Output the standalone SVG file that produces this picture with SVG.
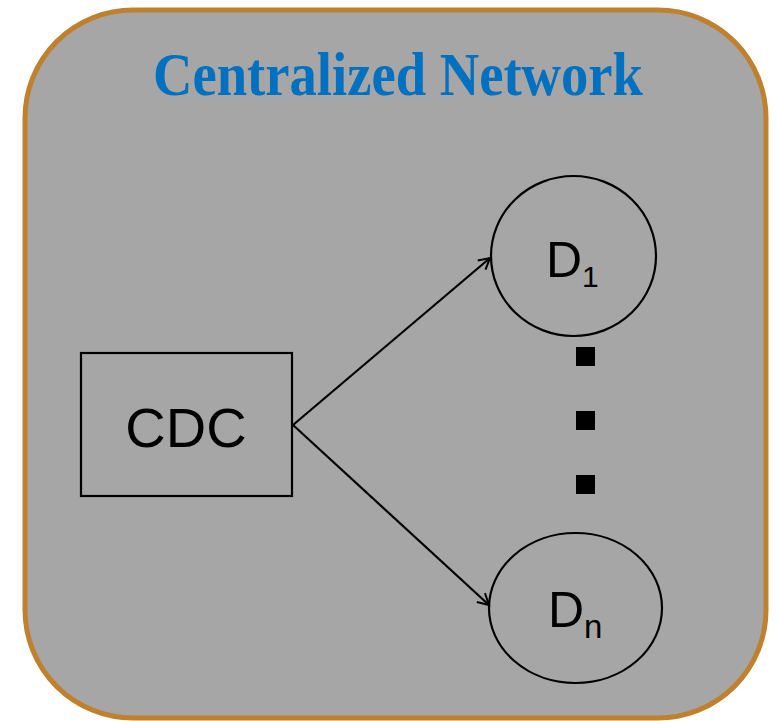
<svg xmlns="http://www.w3.org/2000/svg" width="777" height="721" viewBox="0 0 777 721">
<style>
.node{fill:none;stroke:#000;stroke-width:2.2}
.lbl{font-family:"Liberation Sans",Arial,sans-serif;fill:#000}
.edge{fill:none;stroke:#000;stroke-width:2.2;marker-end:url(#arr)}
</style>
<defs>
<marker id="arr" markerWidth="16" markerHeight="16" refX="13" refY="8" orient="auto" markerUnits="userSpaceOnUse">
<path d="M2,2 L13,8 L2,14" fill="none" stroke="#000" stroke-width="2"/>
</marker>
</defs>
<g id="frame">
<rect x="25" y="10" width="741" height="708" rx="108" ry="108" fill="#A6A6A6" stroke="#C0812F" stroke-width="5"/>
<text x="153" y="95" font-family="'Liberation Serif','Times New Roman',serif" font-weight="bold" font-size="61" fill="#0070C0" textLength="490" lengthAdjust="spacingAndGlyphs">Centralized Network</text>
</g>
<g id="connectors">
<line class="edge" x1="293" y1="425" x2="490" y2="258"/>
<line class="edge" x1="293" y1="425" x2="489" y2="605"/>
</g>
<g id="cdc">
<rect class="node" x="81" y="353" width="211" height="143"/>
<text class="lbl" x="186" y="447" font-size="56" text-anchor="middle">CDC</text>
</g>
<g id="d1">
<ellipse class="node" cx="573.5" cy="256" rx="82.5" ry="80"/>
<text class="lbl" x="546" y="277" font-size="50">D<tspan font-size="30" dy="10">1</tspan></text>
</g>
<g id="dn">
<ellipse class="node" cx="575.5" cy="608" rx="86.5" ry="75"/>
<text class="lbl" x="548" y="627" font-size="50">D<tspan font-size="33" dy="11">n</tspan></text>
</g>
<g id="dots" fill="#000">
<rect x="576" y="347" width="19" height="19"/>
<rect x="576" y="411" width="19" height="19"/>
<rect x="576" y="475" width="19" height="19"/>
</g>
</svg>
